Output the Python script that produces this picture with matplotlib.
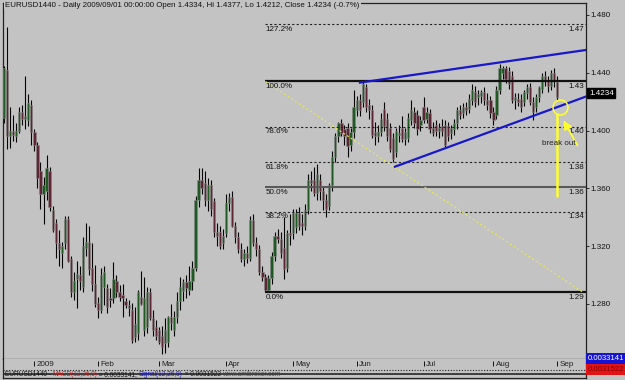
import matplotlib
matplotlib.use("Agg")
import matplotlib.pyplot as plt
from matplotlib.patches import Rectangle

plt.rcParams['font.family'] = ['Liberation Sans', 'DejaVu Sans']

# ---- data (EURUSD daily, 2008-12-17 .. 2009-09-01) ----
opens = [
    1.409, 1.442, 1.396, 1.400, 1.396, 1.400, 1.413, 1.408, 1.407, 1.418,
    1.399, 1.390, 1.372, 1.356, 1.358, 1.372, 1.345, 1.336, 1.322, 1.315,
    1.322, 1.339, 1.311, 1.288, 1.297, 1.300, 1.292, 1.319, 1.323, 1.305,
    1.294, 1.281, 1.276, 1.292, 1.291, 1.284, 1.284, 1.296, 1.288, 1.286,
    1.282, 1.279, 1.276, 1.257, 1.260, 1.285, 1.262, 1.264, 1.288, 1.270,
    1.264, 1.262, 1.258, 1.253, 1.254, 1.271, 1.262, 1.271, 1.282, 1.289,
    1.295, 1.290, 1.296, 1.305, 1.352, 1.366, 1.364, 1.352, 1.362, 1.351,
    1.330, 1.330, 1.322, 1.329, 1.350, 1.354, 1.334, 1.326, 1.318, 1.311,
    1.315, 1.312, 1.338, 1.322, 1.318, 1.302, 1.299, 1.290, 1.298, 1.313,
    1.327, 1.325, 1.319, 1.305, 1.329, 1.329, 1.333, 1.343, 1.336, 1.334,
    1.345, 1.366, 1.366, 1.357, 1.366, 1.358, 1.352, 1.348, 1.362, 1.382,
    1.396, 1.405, 1.401, 1.402, 1.390, 1.399, 1.414, 1.421, 1.420, 1.430,
    1.418, 1.414, 1.399, 1.396, 1.399, 1.415, 1.408, 1.402, 1.395, 1.385,
    1.397, 1.402, 1.394, 1.395, 1.407, 1.413, 1.411, 1.404, 1.416, 1.408,
    1.412, 1.402, 1.404, 1.400, 1.403, 1.404, 1.403, 1.398, 1.401, 1.405,
    1.414, 1.412, 1.416, 1.415, 1.421, 1.427, 1.423, 1.424, 1.427, 1.421,
    1.421, 1.413, 1.411, 1.428, 1.440, 1.443, 1.441, 1.438, 1.421, 1.422,
    1.422, 1.420, 1.426, 1.430, 1.420, 1.416, 1.423, 1.429, 1.438, 1.434,
    1.431, 1.440, 1.4334,
]
highs = [
    1.445, 1.4717, 1.416, 1.411, 1.405, 1.416, 1.418, 1.438, 1.425, 1.421,
    1.401, 1.392, 1.378, 1.368, 1.383, 1.375, 1.348, 1.339, 1.331, 1.323,
    1.341, 1.341, 1.313, 1.302, 1.310, 1.306, 1.326, 1.336, 1.334, 1.322,
    1.307, 1.285, 1.305, 1.306, 1.294, 1.291, 1.309, 1.300, 1.293, 1.294,
    1.284, 1.283, 1.281, 1.278, 1.290, 1.303, 1.299, 1.292, 1.291, 1.276,
    1.269, 1.264, 1.265, 1.270, 1.272, 1.280, 1.275, 1.288, 1.299, 1.297,
    1.300, 1.306, 1.310, 1.355, 1.3738, 1.374, 1.372, 1.367, 1.366, 1.353,
    1.336, 1.334, 1.332, 1.356, 1.357, 1.358, 1.337, 1.330, 1.322, 1.318,
    1.320, 1.341, 1.342, 1.326, 1.321, 1.306, 1.301, 1.300, 1.316, 1.330,
    1.332, 1.330, 1.340, 1.331, 1.342, 1.346, 1.346, 1.347, 1.342, 1.349,
    1.370, 1.372, 1.375, 1.377, 1.370, 1.361, 1.356, 1.364, 1.386, 1.398,
    1.406, 1.408, 1.404, 1.405, 1.402, 1.428, 1.424, 1.425, 1.434, 1.432,
    1.422, 1.418, 1.406, 1.404, 1.412, 1.420, 1.412, 1.405, 1.398, 1.402,
    1.404, 1.410, 1.402, 1.412, 1.421, 1.416, 1.414, 1.410, 1.423, 1.416,
    1.415, 1.406, 1.407, 1.405, 1.408, 1.407, 1.406, 1.404, 1.408, 1.416,
    1.418, 1.419, 1.420, 1.425, 1.432, 1.431, 1.428, 1.428, 1.430, 1.426,
    1.424, 1.416, 1.431, 1.446, 1.4445, 1.445, 1.444, 1.441, 1.426, 1.426,
    1.425, 1.428, 1.432, 1.433, 1.423, 1.425, 1.431, 1.440, 1.441, 1.438,
    1.442, 1.443, 1.4377,
]
lows = [
    1.405, 1.387, 1.388, 1.393, 1.392, 1.398, 1.404, 1.401, 1.403, 1.390,
    1.386, 1.360, 1.346, 1.335, 1.352, 1.344, 1.330, 1.312, 1.306, 1.305,
    1.318, 1.309, 1.285, 1.283, 1.277, 1.290, 1.288, 1.313, 1.300, 1.289,
    1.278, 1.270, 1.274, 1.279, 1.274, 1.278, 1.281, 1.285, 1.282, 1.271,
    1.277, 1.272, 1.253, 1.254, 1.255, 1.279, 1.258, 1.260, 1.269, 1.258,
    1.255, 1.252, 1.2457, 1.246, 1.250, 1.262, 1.258, 1.267, 1.276, 1.282,
    1.284, 1.286, 1.290, 1.303, 1.347, 1.356, 1.348, 1.344, 1.341, 1.326,
    1.320, 1.318, 1.318, 1.326, 1.344, 1.333, 1.322, 1.315, 1.309, 1.306,
    1.308, 1.310, 1.320, 1.313, 1.300, 1.296, 1.2885, 1.288, 1.294, 1.310,
    1.322, 1.312, 1.297, 1.302, 1.321, 1.325, 1.329, 1.331, 1.328, 1.331,
    1.342, 1.358, 1.355, 1.352, 1.352, 1.345, 1.340, 1.345, 1.358, 1.378,
    1.392, 1.396, 1.390, 1.382, 1.386, 1.395, 1.410, 1.410, 1.416, 1.413,
    1.408, 1.395, 1.390, 1.392, 1.396, 1.400, 1.393, 1.385, 1.378, 1.382,
    1.392, 1.392, 1.390, 1.392, 1.404, 1.402, 1.397, 1.400, 1.405, 1.405,
    1.398, 1.396, 1.396, 1.395, 1.396, 1.388, 1.393, 1.394, 1.397, 1.401,
    1.408, 1.409, 1.411, 1.412, 1.418, 1.416, 1.418, 1.419, 1.418, 1.414,
    1.409, 1.404, 1.408, 1.425, 1.436, 1.433, 1.429, 1.419, 1.415, 1.417,
    1.413, 1.417, 1.422, 1.418, 1.407, 1.413, 1.420, 1.426, 1.431, 1.427,
    1.428, 1.430, 1.4212,
]
closes = [
    1.443, 1.396, 1.400, 1.397, 1.400, 1.413, 1.408, 1.410, 1.419, 1.399,
    1.390, 1.367, 1.356, 1.362, 1.374, 1.347, 1.331, 1.322, 1.318, 1.320,
    1.339, 1.310, 1.288, 1.296, 1.301, 1.296, 1.320, 1.323, 1.304, 1.294,
    1.280, 1.276, 1.300, 1.302, 1.278, 1.283, 1.297, 1.288, 1.285, 1.284,
    1.279, 1.277, 1.255, 1.266, 1.288, 1.280, 1.284, 1.288, 1.270, 1.262,
    1.258, 1.254, 1.250, 1.262, 1.271, 1.267, 1.271, 1.282, 1.292, 1.295,
    1.291, 1.296, 1.305, 1.352, 1.366, 1.360, 1.352, 1.362, 1.346, 1.330,
    1.327, 1.320, 1.327, 1.350, 1.354, 1.334, 1.326, 1.318, 1.311, 1.315,
    1.312, 1.338, 1.322, 1.318, 1.302, 1.299, 1.290, 1.298, 1.313, 1.327,
    1.325, 1.315, 1.304, 1.329, 1.328, 1.343, 1.343, 1.334, 1.334, 1.345,
    1.366, 1.364, 1.357, 1.370, 1.358, 1.352, 1.346, 1.362, 1.382, 1.396,
    1.405, 1.398, 1.396, 1.389, 1.399, 1.416, 1.421, 1.414, 1.432, 1.416,
    1.414, 1.397, 1.396, 1.399, 1.408, 1.403, 1.396, 1.387, 1.380, 1.400,
    1.398, 1.394, 1.399, 1.409, 1.414, 1.405, 1.401, 1.407, 1.407, 1.413,
    1.401, 1.398, 1.400, 1.402, 1.400, 1.390, 1.396, 1.402, 1.405, 1.414,
    1.411, 1.416, 1.414, 1.422, 1.428, 1.420, 1.425, 1.427, 1.421, 1.418,
    1.412, 1.407, 1.428, 1.443, 1.443, 1.436, 1.432, 1.421, 1.423, 1.420,
    1.416, 1.427, 1.430, 1.420, 1.413, 1.423, 1.430, 1.438, 1.434, 1.431,
    1.440, 1.434, 1.4234,
]

month_labels = ["2009", "Feb", "Mar", "Apr", "May", "Jun", "Jul", "Aug", "Sep"]
month_idx = [10, 31, 51, 73, 95, 116, 138, 161, 182]

price_ticks = [1.28, 1.32, 1.36, 1.40, 1.44, 1.48]

# fibonacci retracement from the april low (bar 86) to the june high
fib_ratios = [1.272, 1.0, 0.786, 0.618, 0.5, 0.382, 0.0]
fib_names = ["127.2%", "100.0%", "78.6%", "61.8%", "50.0%", "38.2%", "0.0%"]
fib_start = 86
fib_end = 190.5

# hand drawn trend lines (bar index, price)
upper_x = [117.1, 191.5]
upper_y = [1.4332, 1.4558]
lower_x = [128.6, 191.5]
lower_y = [1.3750, 1.4236]

# "break out" annotation
circle_xy = (182.9, 1.4163)
vline_x = 182
vline_y = [1.354, 1.4122]
arrow_tail = (189.1, 1.388)
arrow_head = (183.6, 1.4087)
note_xy = (177.0, 1.391)

title = ("EURUSD1440 - Daily 2009/09/01 00:00:00 Open 1.4334, Hi 1.4377, "
         "Lo 1.4212, Close 1.4234 (-0.7%)")
macd_val = "0.0033141"
signal_val = "0.0031522"

# ---- drawing ----
W, H = 625, 380
BG = "#c3c3c3"
XLIM = (-0.33, 191.45)


def box(x0, y0, x1, y1):
    return [x0 / W, 1 - y1 / H, (x1 - x0) / W, (y1 - y0) / H]


fig = plt.figure(figsize=(W / 100, H / 100), dpi=100, facecolor=BG)
ax = fig.add_axes(box(3, 3, 586, 359), facecolor=BG)
ax.set_xlim(*XLIM)
ax.set_ylim(1.2419, 1.4883)

# candles
idx = list(range(len(closes)))
ax.vlines(idx, lows, highs, color="#050505", lw=0.8, zorder=2)
bottoms = [min(o, c) for o, c in zip(opens, closes)]
heights = [max(abs(c - o), 0.0007) for o, c in zip(opens, closes)]
colors = ["#1f5a22" if c >= o else "#5e2634" for o, c in zip(opens, closes)]
ax.bar(idx, heights, bottom=bottoms, width=0.74, color=colors,
       edgecolor="#888888", linewidth=0.4, zorder=3)

# fib levels
fib_low = min(lows[80:100])
fib_high = max(highs[100:130])
for ratio, name in zip(fib_ratios, fib_names):
    level = fib_low + ratio * (fib_high - fib_low)
    if ratio in (1.0, 0.0):
        ax.hlines(level, fib_start, XLIM[1], color="#111111", lw=1.6, zorder=4)
    elif ratio == 0.5:
        ax.hlines(level, fib_start, XLIM[1], color="#5a5a5a", lw=1.5, zorder=4)
    else:
        ax.hlines(level, fib_start, XLIM[1], color="#222222", lw=0.8,
                  linestyles=(0, (2, 2)), zorder=4)
    ax.annotate(name, xy=(fib_start, level), xytext=(0, -1.2),
                textcoords="offset points", ha="left", va="top",
                fontsize=5.8, color="#111111", zorder=5)
    ax.annotate(f"{level:.2f}", xy=(1, level), xycoords=ax.get_yaxis_transform(),
                xytext=(-1.2, -1.2), textcoords="offset points", ha="right",
                va="top", fontsize=5.8, color="#111111", zorder=5)

ax.plot([fib_start, fib_end], [fib_high, fib_low], color="#e8e85a", lw=0.8,
        ls=(0, (2, 2)), zorder=4)

# trend lines
ax.plot(upper_x, upper_y, color="#1818c8", lw=1.6, zorder=6)
ax.plot(lower_x, lower_y, color="#1818c8", lw=1.6, zorder=6)

# break out marks
ax.vlines(vline_x, vline_y[0], vline_y[1], color="#ffff30", lw=1.8, zorder=7)
ax.plot(*circle_xy, marker="o", ms=10.8, mfc="none", mec="#ffff30", mew=1.1,
        zorder=8)
ax.annotate("", xy=arrow_head, xytext=arrow_tail,
            arrowprops=dict(arrowstyle="-|>,head_length=0.5,head_width=0.25",
                            color="#ffff30", lw=1.3), zorder=8)
ax.text(*note_xy, "break out", fontsize=5.8, color="#222222", ha="left",
        va="center", zorder=8)

# price axis
ax.set_xticks([])
ax.yaxis.tick_right()
ax.set_yticks(price_ticks)
ax.set_yticklabels([f"{t:.3f}" for t in price_ticks])
ax.tick_params(axis="y", length=2, width=0.6, pad=1.5, labelsize=5.8,
               colors="#111111")
for s in ax.spines.values():
    s.set_color("#222222")
    s.set_linewidth(0.9)

ax.annotate(f"{closes[-1]:.4f}", xy=(1, closes[-1]),
            xycoords=ax.get_yaxis_transform(), xytext=(2.2, 2.5),
            textcoords="offset points", ha="left", va="center", fontsize=5.8,
            color="white", annotation_clip=False,
            bbox=dict(boxstyle="square,pad=0.2", fc="black", ec="black"))

fig.text(5 / W, 1 - 5.5 / H, title, fontsize=5.7, ha="left", va="center",
         color="#111111",
         bbox=dict(fc=BG, ec="none", boxstyle="square,pad=0.15"))

# time axis + collapsed indicator pane
ax2 = fig.add_axes(box(3, 359, 586, 378), facecolor=BG)
ax2.set_xlim(*XLIM)
ax2.set_ylim(378, 359)
ax2.set_xticks([])
ax2.set_yticks([])
ax2.spines["top"].set_visible(False)
for s in ("left", "right", "bottom"):
    ax2.spines[s].set_color("#222222")
    ax2.spines[s].set_linewidth(0.9)
ax2.vlines(month_idx, 360.5, 365.5, color="#111111", lw=0.7)
for m, lab in zip(month_idx, month_labels):
    ax2.text(m + 0.7, 364.2, lab, fontsize=5.8, ha="left", va="center",
             color="#222222")
ax2.axhline(369.5, color="#222222", lw=0.8, ls=(0, (1, 1.5)))
ax2.axhline(374, color="#333333", lw=1.3)

segments = [("EURUSD1440 - ", "#111111"), ("MACD(12,26,9)", "#d01818"),
            (f" = {macd_val}, ", "#111111"), ("Signal(12,26,9)", "#1818c0"),
            (f" = {signal_val} ", "#111111"), ("www.amibroker.com", "#444444")]
prev = ax2.text(0.3, 374.5, segments[0][0], fontsize=4.7,
                color=segments[0][1], ha="left", va="center")
for txt, col in segments[1:]:
    prev = ax2.annotate(txt, xy=(1, 0.5), xycoords=prev, ha="left",
                        va="center", fontsize=4.7, color=col)

# value boxes on the right
fig.add_artist(Rectangle((586 / W, 1 - 364 / H), 39 / W, 11 / H,
                         transform=fig.transFigure, fc="#1414d2", ec="none"))
fig.add_artist(Rectangle((586 / W, 1 - 375 / H), 39 / W, 11 / H,
                         transform=fig.transFigure, fc="#e01414", ec="none"))
fig.text(588 / W, 1 - 358.5 / H, macd_val, fontsize=5.6, color="white",
         ha="left", va="center")
fig.text(588 / W, 1 - 369.5 / H, signal_val, fontsize=5.6, color="#8a0000",
         ha="left", va="center")

fig.savefig("out.png", dpi=100, facecolor=BG)
